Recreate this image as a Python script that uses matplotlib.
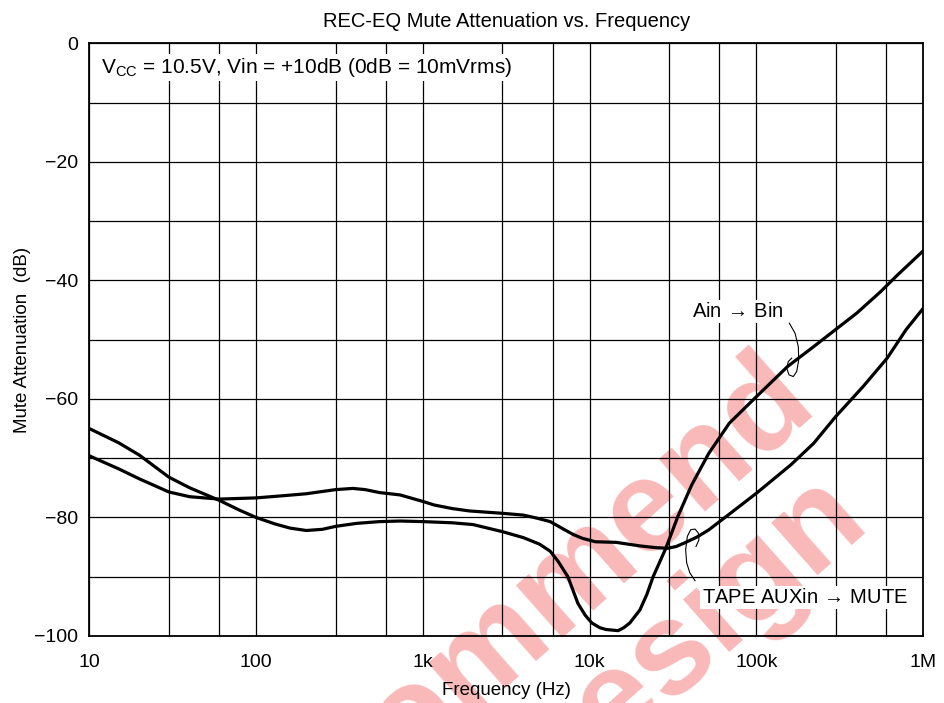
import matplotlib
matplotlib.use("Agg")
import matplotlib.pyplot as plt
from matplotlib.ticker import FixedLocator, NullFormatter

plt.rcParams['font.family'] = ['Liberation Sans', 'DejaVu Sans']
plt.rcParams['mathtext.default'] = 'regular'

# ---- data ----
ain_freq = [10, 15, 20, 30, 40, 60, 80, 100, 130, 160, 200, 250, 300, 400, 550, 730,
            1000, 1500, 2000, 3000, 4000, 5000, 5800, 6500, 7400, 8500, 9400, 10300,
            11500, 12500, 14800, 16000, 17400, 20000, 22000, 24000, 28600, 33800,
            40900, 51700, 68700, 100000, 154000, 215000, 298000, 400000, 550000,
            700000, 1000000]
ain_db = [-65.0, -67.4, -69.5, -73.2, -75.0, -77.1, -78.8, -80.0, -81.1, -81.8, -82.2,
          -82.0, -81.5, -81.0, -80.7, -80.6, -80.7, -80.9, -81.2, -82.4, -83.4, -84.5,
          -85.7, -87.5, -90.0, -94.5, -96.5, -97.8, -98.6, -98.9, -99.1, -98.6, -97.8,
          -95.6, -93.0, -90.0, -85.2, -79.8, -74.5, -69.2, -64.1, -59.6, -54.5, -51.4,
          -48.3, -45.5, -42.0, -39.1, -35.0]

tape_freq = [10, 15, 20, 30, 40, 60, 100, 150, 200, 300, 380, 450, 550, 730, 1000,
             1170, 1500, 1900, 3000, 4000, 4800, 5800, 7100, 8000, 9000, 10800, 14400,
             20000, 25000, 29300, 33000, 37000, 44000, 51700, 72000, 100000, 161000,
             220000, 298000, 436000, 608000, 789000, 1000000]
tape_db = [-69.6, -71.8, -73.5, -75.7, -76.5, -76.9, -76.7, -76.3, -76.0, -75.3, -75.1,
           -75.3, -75.8, -76.2, -77.3, -77.9, -78.5, -78.9, -79.3, -79.6, -80.1, -80.7,
           -82.1, -82.9, -83.5, -84.1, -84.2, -84.8, -85.1, -85.2, -84.9, -84.3, -83.3,
           -82.1, -79.0, -75.9, -71.1, -67.5, -63.0, -57.9, -53.1, -48.3, -44.7]

x_ticks = [10, 100, 1000, 10000, 100000, 1000000]
x_tick_labels = ['10', '100', '1k', '10k', '100k', '1M']
x_minor_grid = [30, 60, 300, 600, 3000, 6000, 30000, 60000, 300000, 600000]
y_ticks = [0, -20, -40, -60, -80, -100]
y_tick_labels = ['0', '\u221220', '\u221240', '\u221260', '\u221280', '\u2212100']
y_minor_grid = [-10, -30, -50, -70, -90]

# leader-line shapes for the annotations (freq, dB)
ain_leader_f = [157.3e3, 170.2e3, 178.1e3, 179.1e3, 174.2e3, 166.2e3, 156.6e3, 151.7e3, 155.1e3, 162.6e3]
ain_leader_db = [-47.22, -48.90, -51.16, -53.41, -55.38, -56.22, -55.94, -54.81, -53.69, -53.12]
tape_leader_f = [42.8e3, 39.9e3, 38.15e3, 37.6e3, 38.5e3, 40.3e3, 42.8e3, 44.8e3, 45.2e3, 43.4e3]
tape_leader_db = [-90.67, -89.38, -87.69, -85.45, -83.20, -82.07, -81.96, -82.63, -83.76, -84.89]

W, H = 945, 703
fig = plt.figure(figsize=(W / 100, H / 100), dpi=100)
ax = fig.add_axes([89.3 / W, 1 - 636 / H, (923.3 - 89.3) / W, (636 - 43.3) / H])
ax.set_facecolor('none')

# watermark (behind everything)
wm_color = '#f9b9b9'
fig.text(820 / W, 1 - 410 / H, 'Not Recommend', fontsize=95, fontweight='bold',
         color=wm_color, rotation=41.5, rotation_mode='anchor', ha='right', va='baseline',
         zorder=-5)
fig.text(872 / W, 1 - 527 / H, 'for New Design', fontsize=95, fontweight='bold',
         color=wm_color, rotation=41.5, rotation_mode='anchor', ha='right', va='baseline',
         zorder=-5)

ax.set_xscale('log')
ax.set_xlim(10, 1e6)
ax.set_ylim(-100, 0)

ax.xaxis.set_major_locator(FixedLocator(x_ticks))
ax.set_xticklabels(x_tick_labels)
ax.xaxis.set_minor_locator(FixedLocator(x_minor_grid))
ax.xaxis.set_minor_formatter(NullFormatter())
ax.yaxis.set_major_locator(FixedLocator(y_ticks))
ax.set_yticklabels(y_tick_labels)
ax.yaxis.set_minor_locator(FixedLocator(y_minor_grid))

ax.tick_params(which='both', length=0, labelsize=14)
ax.tick_params(axis='x', pad=13)
ax.tick_params(axis='y', pad=8)
ax.grid(True, which='both', color='black', linewidth=0.9, zorder=1)
ax.set_axisbelow(True)
for s in ax.spines.values():
    s.set_linewidth(1.3)

ax.plot(ain_freq, ain_db, color='black', linewidth=2.3, zorder=3)
ax.plot(tape_freq, tape_db, color='black', linewidth=2.3, zorder=3)

ax.plot(ain_leader_f, ain_leader_db, color='black', linewidth=0.8, zorder=3)
ax.plot(tape_leader_f, tape_leader_db, color='black', linewidth=0.8, zorder=3)

bbox = dict(facecolor='white', edgecolor='none', pad=1.5)
ax.text(77e3, -45.3, r'Ain $\!\rightarrow\!$ Bin', fontsize=14.5, ha='center', va='center',
        bbox=bbox, zorder=4)
ax.text(195e3, -93.5, r'TAPE AUXin $\!\rightarrow\!$ MUTE', fontsize=14.5, ha='center',
        va='center', bbox=bbox, zorder=4)
ax.text(0.014, 0.9595, r'V$_{CC}$ = 10.5V, Vin = +10dB (0dB = 10mVrms)', fontsize=15,
        transform=ax.transAxes, ha='left', va='center', bbox=bbox, zorder=4)

ax.set_title('REC-EQ Mute Attenuation vs. Frequency', fontsize=14.5, pad=12)
ax.set_xlabel('Frequency (Hz)', fontsize=13.5, labelpad=8)
ax.set_ylabel('Mute Attenuation  (dB)', fontsize=13.5, labelpad=2)

fig.savefig('out.png', dpi=100, facecolor='white')
